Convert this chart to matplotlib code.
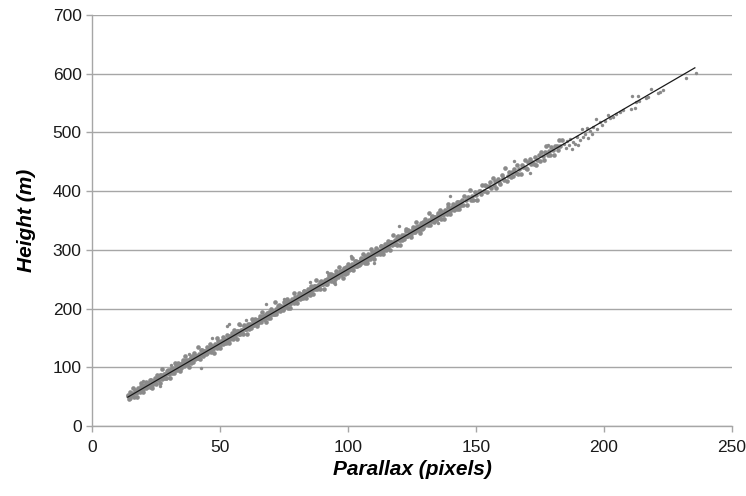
import matplotlib
matplotlib.use("Agg")
import matplotlib.pyplot as plt

plt.rcParams['font.family'] = ['Liberation Sans', 'DejaVu Sans']

parallax = [
    14, 14.5, 15, 15.5, 16, 16.5, 17, 17.5, 18, 18.5, 19, 19.5, 20, 20.5, 21, 21.5, 22, 22.5, 23, 23.5,
    24, 24.5, 25, 25.5, 26, 26.5, 27, 27.5, 28, 28.5, 29, 29.5, 30, 30.5, 31, 31.5, 32, 32.5, 33, 33.5,
    34, 34.5, 35, 35.5, 36, 36.5, 37, 37.5, 38, 38.5, 39, 39.5, 40, 40.5, 41, 41.5, 42, 42.5, 43, 43.5,
    44, 44.5, 45, 45.5, 46, 46.5, 47, 47.5, 48, 48.5, 49, 49.5, 50, 50.5, 51, 51.5, 52, 52.5, 53, 53.5,
    54, 54.5, 55, 55.5, 56, 56.5, 57, 57.5, 58, 58.5, 59, 59.5, 60, 60.5, 61, 61.5, 62, 62.5, 63, 63.5,
    64, 64.5, 65, 65.5, 66, 66.5, 67, 67.5, 68, 68.5, 69, 69.5, 70, 70.5, 71, 71.5, 72, 72.5, 73, 73.5,
    74, 74.5, 75, 75.5, 76, 76.5, 77, 77.5, 78, 78.5, 79, 79.5, 80, 80.5, 81, 81.5, 82, 82.5, 83, 83.5,
    84, 84.5, 85, 85.5, 86, 86.5, 87, 87.5, 88, 88.5, 89, 89.5, 90, 90.5, 91, 91.5, 92, 92.5, 93, 93.5,
    94, 94.5, 95, 95.5, 96, 96.5, 97, 97.5, 98, 98.5, 99, 99.5, 100, 100.5, 101, 101.5, 102, 102.5, 103, 103.5,
    104, 104.5, 105, 105.5, 106, 106.5, 107, 107.5, 108, 108.5, 109, 109.5, 110, 110.5, 111, 111.5, 112, 112.5, 113, 113.5,
    114, 114.5, 115, 115.5, 116, 116.5, 117, 117.5, 118, 118.5, 119, 119.5, 120, 120.5, 121, 121.5, 122, 122.5, 123, 123.5,
    124, 124.5, 125, 125.5, 126, 126.5, 127, 127.5, 128, 128.5, 129, 129.5, 130, 130.5, 131, 131.5, 132, 132.5, 133, 133.5,
    134, 134.5, 135, 135.5, 136, 136.5, 137, 137.5, 138, 138.5, 139, 139.5, 140, 140.5, 141, 141.5, 142, 142.5, 143, 143.5,
    144, 144.5, 145, 145.5, 146, 146.5, 147, 147.5, 148, 148.5, 149, 149.5, 150, 150.5, 151, 151.5, 152, 152.5, 153, 153.5,
    154, 154.5, 155, 155.5, 156, 156.5, 157, 157.5, 158, 158.5, 159, 159.5, 160, 160.5, 161, 161.5, 162, 162.5, 163, 163.5,
    164, 164.5, 165, 165.5, 166, 166.5, 167, 167.5, 168, 168.5, 169, 169.5, 170, 170.5, 171, 171.5, 172, 172.5, 173, 173.5,
    174, 174.5, 175, 175.5, 176, 176.5, 177, 177.5, 178, 178.5, 179, 179.5, 180, 180.5, 181, 181.5, 182, 182.5, 183, 183.5,
]
height = [
    52.2, 46.5, 58.7, 52.0, 64.3, 49.5, 58.8, 49.1, 64.3, 60.6, 73.9, 60.1, 57.4, 69.7, 74.9, 66.2, 70.5, 65.7, 78.0, 65.3,
    72.5, 81.8, 72.0, 87.3, 80.6, 72.8, 86.1, 97.4, 81.6, 87.9, 81.2, 95.4, 89.7, 81.0, 97.2, 96.5, 90.8, 107.0, 96.3, 106.6,
    104.8, 94.1, 104.3, 111.6, 101.9, 119.1, 106.4, 112.7, 100.9, 117.2, 112.5, 108.7, 124.0, 119.3, 115.5, 134.8, 114.1, 122.3, 129.6, 119.9,
    128.1, 122.4, 134.6, 127.9, 140.2, 125.4, 134.7, 125.0, 140.2, 136.5, 149.8, 136.0, 133.3, 145.6, 150.8, 142.1, 146.4, 141.6, 153.9, 141.2,
    148.4, 157.7, 147.9, 163.2, 156.5, 148.7, 162.0, 173.3, 157.5, 163.8, 157.1, 171.3, 165.6, 156.9, 173.1, 172.4, 166.7, 182.9, 172.2, 182.5,
    180.7, 170.0, 180.2, 187.5, 177.8, 195.0, 182.3, 188.6, 176.8, 193.1, 188.4, 184.6, 199.9, 195.2, 191.4, 210.7, 190.0, 198.2, 205.5, 195.8,
    204.1, 198.4, 210.6, 203.9, 216.2, 201.4, 210.7, 201.0, 216.2, 212.5, 225.8, 212.0, 209.3, 221.6, 226.8, 218.1, 222.4, 217.6, 229.9, 217.2,
    224.4, 233.7, 223.9, 239.2, 232.5, 224.7, 238.0, 249.3, 233.5, 239.8, 233.1, 247.3, 241.6, 232.9, 249.1, 248.4, 242.7, 258.9, 248.2, 258.5,
    256.7, 246.0, 256.2, 263.5, 253.8, 271.0, 258.3, 264.6, 252.8, 269.1, 264.4, 260.6, 275.9, 271.2, 267.4, 286.7, 266.0, 274.2, 281.5, 271.8,
    280.0, 274.3, 286.5, 279.8, 292.1, 277.3, 286.6, 276.9, 292.1, 288.4, 301.7, 287.9, 285.2, 297.5, 302.7, 294.0, 298.3, 293.5, 305.8, 293.1,
    300.3, 309.6, 299.8, 315.1, 308.4, 300.6, 313.9, 325.2, 309.4, 315.7, 309.0, 323.2, 317.5, 308.8, 325.0, 324.3, 318.6, 334.8, 324.1, 334.4,
    332.7, 322.0, 332.2, 339.5, 329.8, 347.0, 334.3, 340.6, 328.8, 345.1, 340.4, 336.6, 351.9, 347.2, 343.4, 362.7, 342.0, 350.2, 357.5, 347.8,
    356.0, 350.3, 362.5, 355.8, 368.1, 353.3, 362.6, 352.9, 368.1, 364.4, 377.7, 363.9, 361.2, 373.5, 378.7, 370.0, 374.3, 369.5, 381.8, 369.1,
    376.3, 385.6, 375.8, 391.1, 384.4, 376.6, 389.9, 401.2, 385.4, 391.7, 385.0, 399.2, 393.5, 384.8, 401.0, 400.3, 394.6, 410.8, 400.1, 410.4,
    408.6, 397.9, 408.1, 415.4, 405.7, 422.9, 410.2, 416.5, 404.7, 421.0, 416.3, 412.5, 427.8, 423.1, 419.3, 438.6, 417.9, 426.1, 433.4, 423.7,
    431.9, 426.2, 438.4, 431.7, 444.0, 429.2, 438.5, 428.8, 444.0, 440.3, 453.6, 439.8, 437.1, 449.4, 454.6, 445.9, 450.2, 445.4, 457.7, 445.0,
    452.3, 461.6, 451.8, 467.1, 460.4, 452.6, 465.9, 477.2, 461.4, 467.7, 461.0, 475.2, 469.5, 460.8, 477.0, 476.3, 470.6, 486.8, 476.1, 486.4,
]

# denser core of the band (low to mid parallax)
parallax_core = [
    14.25, 14.75, 15.25, 15.75, 16.25, 16.75, 17.25, 17.75, 18.25, 18.75, 19.25, 19.75, 20.25, 20.75, 21.25, 21.75, 22.25, 22.75, 23.25, 23.75,
    24.25, 24.75, 25.25, 25.75, 26.25, 26.75, 27.25, 27.75, 28.25, 28.75, 29.25, 29.75, 30.25, 30.75, 31.25, 31.75, 32.25, 32.75, 33.25, 33.75,
    34.25, 34.75, 35.25, 35.75, 36.25, 36.75, 37.25, 37.75, 38.25, 38.75, 39.25, 39.75, 40.25, 40.75, 41.25, 41.75, 42.25, 42.75, 43.25, 43.75,
    44.25, 44.75, 45.25, 45.75, 46.25, 46.75, 47.25, 47.75, 48.25, 48.75, 49.25, 49.75, 50.25, 50.75, 51.25, 51.75, 52.25, 52.75, 53.25, 53.75,
    54.25, 54.75, 55.25, 55.75, 56.25, 56.75, 57.25, 57.75, 58.25, 58.75, 59.25, 59.75, 60.25, 60.75, 61.25, 61.75, 62.25, 62.75, 63.25, 63.75,
    64.25, 64.75, 65.25, 65.75, 66.25, 66.75, 67.25, 67.75, 68.25, 68.75, 69.25, 69.75, 70.25, 70.75, 71.25, 71.75, 72.25, 72.75, 73.25, 73.75,
    74.25, 74.75, 75.25, 75.75, 76.25, 76.75, 77.25, 77.75, 78.25, 78.75, 79.25, 79.75, 80.25, 80.75, 81.25, 81.75, 82.25, 82.75, 83.25, 83.75,
    84.25, 84.75, 85.25, 85.75, 86.25, 86.75, 87.25, 87.75, 88.25, 88.75, 89.25, 89.75, 90.25, 90.75, 91.25, 91.75, 92.25, 92.75, 93.25, 93.75,
    94.25, 94.75, 95.25, 95.75, 96.25, 96.75, 97.25, 97.75, 98.25, 98.75, 99.25, 99.75, 100.25, 100.75, 101.25, 101.75, 102.25, 102.75, 103.25, 103.75,
    104.25, 104.75, 105.25, 105.75, 106.25, 106.75, 107.25, 107.75, 108.25, 108.75, 109.25, 109.75, 110.25, 110.75, 111.25, 111.75, 112.25, 112.75, 113.25, 113.75,
    114.25, 114.75, 115.25, 115.75, 116.25, 116.75, 117.25, 117.75, 118.25, 118.75, 119.25, 119.75, 120.25, 120.75, 121.25, 121.75, 122.25, 122.75, 123.25, 123.75,
    124.25, 124.75, 125.25, 125.75, 126.25, 126.75, 127.25, 127.75, 128.25, 128.75, 129.25, 129.75, 130.25, 130.75, 131.25, 131.75, 132.25, 132.75, 133.25, 133.75,
    134.25, 134.75, 135.25, 135.75, 136.25, 136.75, 137.25, 137.75, 138.25, 138.75, 139.25, 139.75, 140.25, 140.75, 141.25, 141.75, 142.25, 142.75, 143.25, 143.75,
]
height_core = [
    50.8, 48.1, 56.3, 52.6, 56.9, 61.1, 55.4, 58.7, 62.9, 57.2, 68.5, 64.7, 64.0, 68.3, 64.5, 72.8, 70.1, 78.3, 70.6, 76.9,
    76.1, 73.4, 81.6, 77.9, 82.2, 86.4, 80.7, 84.0, 88.2, 82.5, 93.8, 90.0, 89.3, 93.6, 89.8, 98.1, 95.4, 103.6, 95.9, 102.2,
    101.4, 98.7, 106.9, 103.2, 107.5, 111.7, 106.0, 109.3, 113.5, 107.8, 119.1, 115.3, 114.6, 118.9, 115.1, 123.4, 120.7, 128.9, 121.2, 127.5,
    126.7, 124.0, 132.2, 128.5, 132.8, 137.0, 131.3, 134.6, 138.8, 133.1, 144.4, 140.6, 139.9, 144.2, 140.4, 148.7, 146.0, 154.2, 146.5, 152.8,
    152.0, 149.3, 157.5, 153.8, 158.1, 162.3, 156.6, 159.9, 164.1, 158.4, 169.7, 165.9, 165.2, 169.5, 165.7, 174.0, 171.3, 179.5, 171.8, 178.1,
    177.3, 174.6, 182.8, 179.1, 183.4, 187.6, 181.9, 185.2, 189.4, 183.7, 195.0, 191.2, 190.5, 194.8, 191.0, 199.3, 196.6, 204.8, 197.1, 203.4,
    202.7, 200.0, 208.2, 204.5, 208.8, 213.0, 207.3, 210.6, 214.8, 209.1, 220.4, 216.6, 215.9, 220.2, 216.4, 224.7, 222.0, 230.2, 222.5, 228.8,
    228.0, 225.3, 233.5, 229.8, 234.1, 238.3, 232.6, 235.9, 240.1, 234.4, 245.7, 241.9, 241.2, 245.5, 241.7, 250.0, 247.3, 255.5, 247.8, 254.1,
    253.3, 250.6, 258.8, 255.1, 259.4, 263.6, 257.9, 261.2, 265.4, 259.7, 271.0, 267.2, 266.5, 270.8, 267.0, 275.3, 272.6, 280.8, 273.1, 279.4,
    278.6, 275.9, 284.1, 280.4, 284.7, 288.9, 283.2, 286.5, 290.7, 285.0, 296.3, 292.5, 291.8, 296.1, 292.3, 300.6, 297.9, 306.1, 298.4, 304.7,
    303.9, 301.2, 309.4, 305.7, 310.0, 314.2, 308.5, 311.8, 316.0, 310.3, 321.6, 317.8, 317.1, 321.4, 317.6, 325.9, 323.2, 331.4, 323.7, 330.0,
    329.3, 326.6, 334.8, 331.1, 335.4, 339.6, 333.9, 337.2, 341.4, 335.7, 347.0, 343.2, 342.5, 346.8, 343.0, 351.3, 348.6, 356.8, 349.1, 355.4,
    354.6, 351.9, 360.1, 356.4, 360.7, 364.9, 359.2, 362.5, 366.7, 361.0, 372.3, 368.5, 367.8, 372.1, 368.3, 376.6, 373.9, 382.1, 374.4, 380.7,
]

# sparse upper end and scattered outliers
parallax_tail = [184.5, 185.0, 185.6, 186.2, 186.9, 187.5, 188.0, 188.7, 189.3, 189.9, 190.5, 191.3, 191.8,
                 192.4, 193.2, 193.8, 194.5, 195.2, 195.8, 196.7, 197.3, 198.4, 199.1, 200.3, 201.7, 202.5,
                 203.4, 204.7, 206.3, 207.5, 210.5, 211.1, 212.0, 212.7, 213.4, 213.8, 216.4, 217.3, 218.2,
                 221.0, 222.0, 223.2, 232.0, 235.9]
height_tail = [481, 474, 486, 478, 489, 472, 484, 480, 492, 479, 487, 505, 493,
               497, 508, 490, 502, 498, 510, 523, 506, 518, 512, 519, 530, 524,
               527, 531, 534, 538, 540, 562, 541, 552, 562, 553, 558, 560, 574,
               567, 569, 572, 593, 601]
parallax_out = [20, 26.6, 31, 38, 42.6, 47, 52.6, 53.5, 58, 60, 68, 75, 85, 92, 95, 101,
                110, 120, 128, 135, 140, 150, 165, 171, 178]
height_out = [77, 68.7, 104, 122, 98.3, 150, 170, 173, 172, 181, 207, 216, 246, 262, 242, 289,
              278, 340, 330, 345, 392, 385, 452, 431, 478]

# linear fit drawn by the original chart
fit_x = [14.0, 235.5]
fit_y = [49.2, 610.0]

fig = plt.figure(figsize=(7.46, 4.96), dpi=100)
ax = fig.add_axes([0.1233, 0.1411, 0.8579, 0.8287])

band = dict(s=11, c='#8a8a8a', linewidths=0, zorder=2)
ax.scatter(parallax, height, **band)
ax.scatter(parallax_core, height_core, **band)
sparse = dict(s=6, c='#8a8a8a', linewidths=0, zorder=2)
ax.scatter(parallax_tail, height_tail, **sparse)
ax.scatter(parallax_out, height_out, **sparse)
ax.plot(fit_x, fit_y, color='#1a1a1a', lw=0.9, zorder=3)

ax.set_xlim(0, 250)
ax.set_ylim(0, 700)
ax.set_xticks(range(0, 251, 50))
ax.set_yticks(range(0, 701, 100))
ax.yaxis.grid(True, color='#a6a6a6', lw=1)
ax.set_axisbelow(True)
for s in ['top', 'right']:
    ax.spines[s].set_visible(False)
for s in ['left', 'bottom']:
    ax.spines[s].set_color('#a6a6a6')
    ax.spines[s].set_linewidth(1)
ax.tick_params(axis='both', length=4, width=1, color='#a6a6a6', labelsize=12.5, labelcolor='#1a1a1a')
ax.tick_params(axis='x', pad=6)
ax.set_xlabel('Parallax (pixels)', fontsize=15, fontweight='bold', fontstyle='italic', labelpad=4)
ax.set_ylabel('Height (m)', fontsize=15, fontweight='bold', fontstyle='italic', labelpad=12)

fig.savefig('out.png', dpi=100)
